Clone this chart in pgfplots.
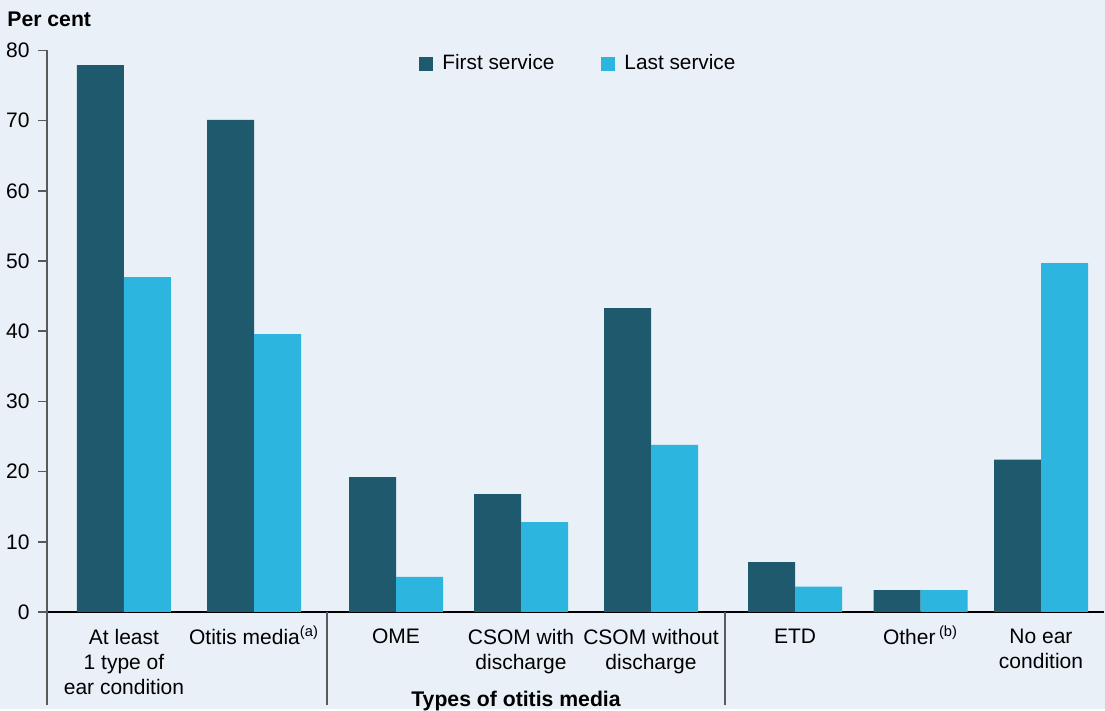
\documentclass[border=0pt]{standalone}
\usepackage{fontspec}
\setmainfont{Liberation Sans}
\usepackage{pgfplots}
\pgfplotsset{compat=1.18}
\definecolor{bg}{HTML}{E9F0F8}
\definecolor{dark}{HTML}{1F596E}
\definecolor{light}{HTML}{2CB5DE}
\definecolor{axgray}{HTML}{5A5A5A}
\begin{document}
\begin{tikzpicture}
\fill[bg] (-23.5pt,-48.5pt) rectangle (529pt,306pt);
\begin{axis}[
  at={(0,0)}, anchor=south west,
  x=0.5pt, y=3.5095pt,
  xmin=47, xmax=1104, ymin=0, ymax=80,
  clip=false,
  axis x line*=bottom, axis y line*=left,
  x axis line style={black, line width=0.75pt, -},
  y axis line style={axgray, line width=0.75pt, -},
  ybar=0pt, bar width=23.5pt,
  xtick={124,254,396,521,651,795,920.5,1041},
  xticklabels={{At least\\1 type of\\ear condition},{Otitis media\smash{\textsuperscript{(a)}}},OME,{CSOM with\\discharge},{CSOM without\\discharge},ETD,{Other\,\smash{\textsuperscript{(b)}}},{No ear\\condition}},
  xticklabel style={align=center, font=\fontsize{10.5}{12.6}\selectfont, inner sep=0pt, anchor=north, yshift=-3.7pt},
  x tick style={draw=none},
  ytick={0,10,...,80},
  ytick align=outside,
  major tick length=4.5pt,
  y tick style={axgray, line width=0.75pt},
  yticklabel style={font=\fontsize{10.5}{12}\selectfont, inner sep=0pt, xshift=-4pt},
  /pgf/number format/assume math mode=true,
  legend columns=2,
  legend style={draw=none, fill=none, at={(axis cs:419,80)}, anchor=north west, inner sep=0pt,
    font=\fontsize{10.4}{12}\selectfont,
    /tikz/every odd column/.append style={column sep=2.5pt},
    /tikz/every even column/.append style={column sep=21.5pt}},
]
\addplot[fill=dark, draw=none, legend image code/.code={\fill[dark] (0pt,-3.5pt) rectangle (7pt,3.5pt);}] coordinates {(124,77.9) (254,70.1) (396,19.2) (521,16.8) (651,43.3) (795,7.1) (920.5,3.1) (1041,21.7)};
\addplot[fill=light, draw=none, legend image code/.code={\fill[light] (0pt,-3.5pt) rectangle (7pt,3.5pt);}] coordinates {(124,47.7) (254,39.6) (396,5.0) (521,12.8) (651,23.8) (795,3.6) (920.5,3.1) (1041,49.7)};
\legend{First service, Last service}
\draw[axgray, line width=0.75pt] (axis cs:47,0) -- (axis cs:47,-13.25);
\draw[axgray, line width=0.75pt] (axis cs:327,0) -- (axis cs:327,-13.25);
\draw[axgray, line width=0.75pt] (axis cs:725,0) -- (axis cs:725,-13.25);
\node[anchor=base west, font=\bfseries\fontsize{10.6}{12}\selectfont, inner sep=0pt] at (axis cs:7,83.4) {Per cent};
\node[anchor=base, font=\bfseries\fontsize{10.6}{12}\selectfont, inner sep=0pt] at (axis cs:516,-13.4) {Types of otitis media};
\end{axis}
\end{tikzpicture}
\end{document}
